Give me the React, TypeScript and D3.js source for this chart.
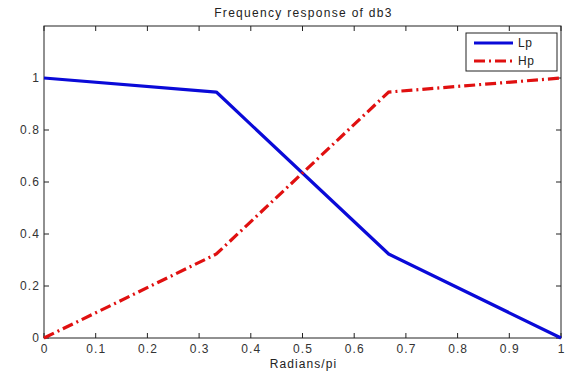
import React from "react";
import * as d3 from "d3";

const xValues = [0, 1 / 3, 2 / 3, 1];
const lpValues = [1, 0.946, 0.323, 0];
const hpValues = [0, 0.323, 0.946, 1];
const xTicks = [0, 0.1, 0.2, 0.3, 0.4, 0.5, 0.6, 0.7, 0.8, 0.9, 1];
const yTicks = [0, 0.2, 0.4, 0.6, 0.8, 1];
const seriesNames = ["Lp", "Hp"];

const W = 569, H = 376;
const left = 44, right = 561, top = 26, bottom = 338;
const BLUE = "#0a0ad8";
const RED = "#e01010";
const DASH = "11,4,2,4";
const FONT = "Liberation Sans, Arial, sans-serif";
const LS = 1.1;

export default function App() {
  const x = d3.scaleLinear().domain([0, 1]).range([left, right]);
  const y = d3.scaleLinear().domain([0, 1.2]).range([bottom, top]);
  const line = d3.line<number>().x((_, i) => x(xValues[i])).y((d) => y(d));
  const tl = 5;
  return (
    <svg width={W} height={H} style={{ position: "absolute", left: 0, top: 0, background: "#fff" }}>
      <rect x={0} y={0} width={W} height={H} fill="#fff" />
      <text x={(left + right) / 2 + 1} y={17} textAnchor="middle" fontFamily={FONT} fontSize={12} letterSpacing={1.3} fill="#222">
        Frequency response of db3
      </text>
      <rect x={left} y={top} width={right - left} height={bottom - top} fill="#fff" stroke="#222" strokeWidth={1} />
      {xTicks.map((t) => (
        <g key={"x" + t}>
          <line x1={x(t)} x2={x(t)} y1={bottom} y2={bottom - tl} stroke="#222" />
          <line x1={x(t)} x2={x(t)} y1={top} y2={top + tl} stroke="#222" />
          <text x={x(t) + LS / 2} y={bottom + 15} textAnchor="middle" fontFamily={FONT} fontSize={12} letterSpacing={LS} fill="#333">
            {String(t)}
          </text>
        </g>
      ))}
      {yTicks.map((t) => (
        <g key={"y" + t}>
          <line x1={left} x2={left + tl} y1={y(t)} y2={y(t)} stroke="#222" />
          <line x1={right} x2={right - tl} y1={y(t)} y2={y(t)} stroke="#222" />
          <text x={left - 4} y={y(t) + 4} textAnchor="end" fontFamily={FONT} fontSize={12} letterSpacing={LS} fill="#333">
            {String(t)}
          </text>
        </g>
      ))}
      <text x={(left + right) / 2 + 1} y={368} textAnchor="middle" fontFamily={FONT} fontSize={12} letterSpacing={LS} fill="#222">
        Radians/pi
      </text>
      <path d={line(lpValues) || ""} fill="none" stroke={BLUE} strokeWidth={3.2} strokeLinejoin="round" />
      <path d={line(hpValues) || ""} fill="none" stroke={RED} strokeWidth={3.2} strokeDasharray={DASH} />
      <g>
        <rect x={466} y={33} width={91} height={38} fill="#fff" stroke="#222" strokeWidth={1} />
        <line x1={474} x2={513} y1={43} y2={43} stroke={BLUE} strokeWidth={3.2} />
        <line x1={474} x2={513} y1={61} y2={61} stroke={RED} strokeWidth={3.2} strokeDasharray={DASH} />
        <text x={518} y={47} fontFamily={FONT} fontSize={12} letterSpacing={0.5} fill="#222">{seriesNames[0]}</text>
        <text x={518} y={65} fontFamily={FONT} fontSize={12} letterSpacing={0.5} fill="#222">{seriesNames[1]}</text>
      </g>
    </svg>
  );
}
